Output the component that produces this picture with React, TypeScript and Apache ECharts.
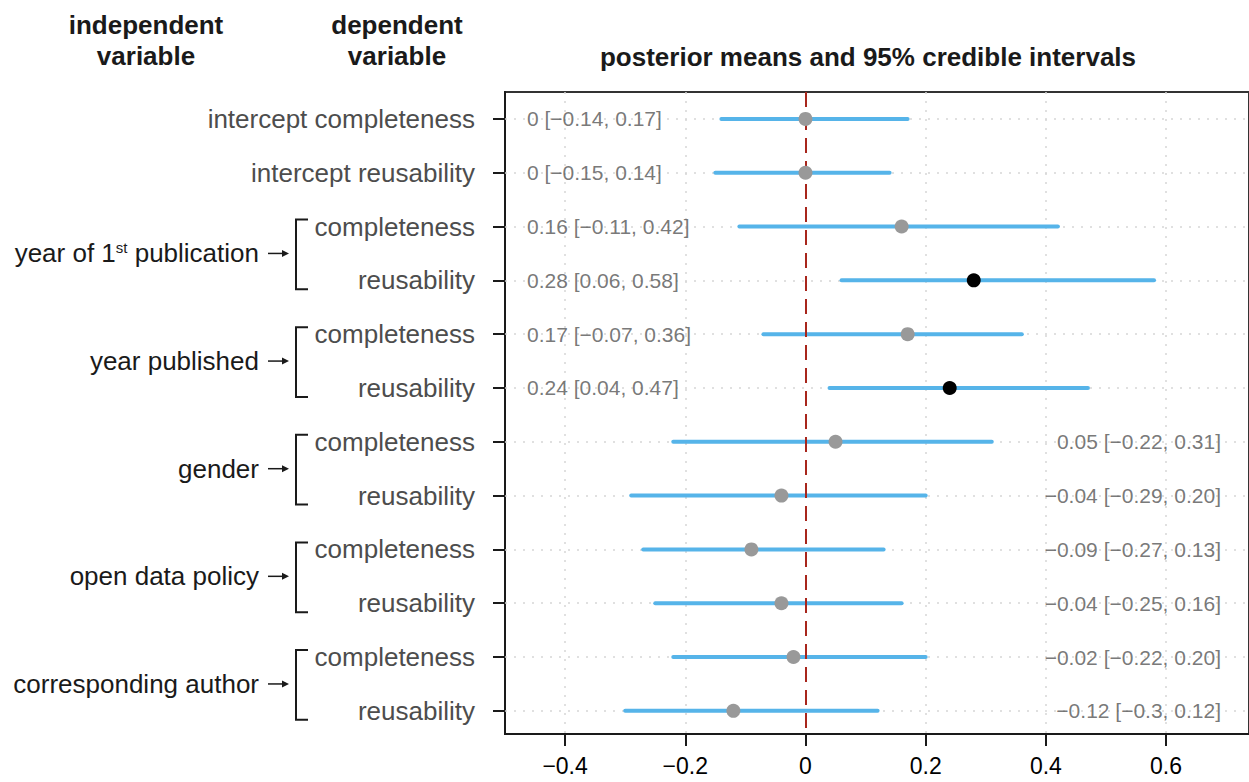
import React, { useEffect, useRef } from "react";
import * as echarts from "echarts";

// ---- data ----
const rowLabels = [
  "intercept completeness",
  "intercept reusability",
  "completeness",
  "reusability",
  "completeness",
  "reusability",
  "completeness",
  "reusability",
  "completeness",
  "reusability",
  "completeness",
  "reusability",
];
const means = [0, 0, 0.16, 0.28, 0.17, 0.24, 0.05, -0.04, -0.09, -0.04, -0.02, -0.12];
const lower = [-0.14, -0.15, -0.11, 0.06, -0.07, 0.04, -0.22, -0.29, -0.27, -0.25, -0.22, -0.3];
const upper = [0.17, 0.14, 0.42, 0.58, 0.36, 0.47, 0.31, 0.2, 0.13, 0.16, 0.2, 0.12];
const credible = [false, false, false, true, false, true, false, false, false, false, false, false];
const valueLabels = [
  "0 [\u22120.14, 0.17]",
  "0 [\u22120.15, 0.14]",
  "0.16 [\u22120.11, 0.42]",
  "0.28 [0.06, 0.58]",
  "0.17 [\u22120.07, 0.36]",
  "0.24 [0.04, 0.47]",
  "0.05 [\u22120.22, 0.31]",
  "\u22120.04 [\u22120.29, 0.20]",
  "\u22120.09 [\u22120.27, 0.13]",
  "\u22120.04 [\u22120.25, 0.16]",
  "\u22120.02 [\u22120.22, 0.20]",
  "\u22120.12 [\u22120.3, 0.12]",
];
const labelOnLeft = [true, true, true, true, true, true, false, false, false, false, false, false];
const xTicks = [-0.4, -0.2, 0, 0.2, 0.4, 0.6];
const groupNames = ["{a|year of 1}{s|st}{a| publication}", "year published", "gender", "open data policy", "corresponding author"];
const groupRows = [[3, 4], [5, 6], [7, 8], [9, 10], [11, 12]];
const headerIndependent = "independent\nvariable";
const headerDependent = "dependent\nvariable";
const titleText = "posterior means and 95% credible intervals";

// ---- style constants ----
const FONT = "'Liberation Sans', Arial, Helvetica, sans-serif";
const X_MIN = -0.5;
const X_MAX = 0.738;
const Y_MIN = 0.5;
const Y_MAX = 12.43;
const LEFT_LABEL_X = -0.4634;
const RIGHT_LABEL_X = 0.6914;
const BLUE = "#56B4E9";
const DARK = "#1a1a1a";
const BIG = 26;

const fmtTick = (v: number) => (v === 0 ? "0" : (v < 0 ? "\u2212" : "") + Math.abs(v).toFixed(1));

export default function App() {
  const ref = useRef<HTMLDivElement>(null);

  useEffect(() => {
    if (!ref.current) return;
    const chart = echarts.init(ref.current, null, { renderer: "svg" });
    const rows = rowLabels.map((_, i) => i + 1);

    const option: any = {
      animation: false,
      grid: {
        left: 505,
        right: -2,
        top: 92,
        bottom: 48,
        show: true,
        borderColor: "#333",
        borderWidth: 2,
        containLabel: false,
      },
      xAxis: {
        type: "value",
        min: X_MIN,
        max: X_MAX,
        axisLine: { show: true, onZero: false, lineStyle: { color: DARK, width: 2 } },
        axisTick: { show: true, length: 12, lineStyle: { color: DARK, width: 2 }, customValues: xTicks },
        axisLabel: {
          show: true,
          customValues: xTicks,
          formatter: (v: number) => fmtTick(v),
          fontSize: 23,
          color: "#000",
          fontFamily: FONT,
          margin: 20,
        },
        splitLine: { show: false },
      },
      yAxis: {
        type: "value",
        inverse: true,
        min: Y_MIN,
        max: Y_MAX,
        axisLine: { show: true, onZero: false, lineStyle: { color: DARK, width: 2 } },
        axisTick: { show: true, length: 12, lineStyle: { color: DARK, width: 2 }, customValues: rows },
        axisLabel: {
          show: true,
          customValues: rows,
          formatter: (v: number) => rowLabels[Math.round(v) - 1] ?? "",
          fontSize: BIG,
          color: "#4d4d4d",
          fontFamily: FONT,
          margin: 30,
        },
        splitLine: { show: false },
      },
      series: [
        {
          type: "scatter",
          data: [],
          z: 1,
          silent: true,
          markLine: {
            z: 1,
            silent: true,
            symbol: ["none", "none"],
            label: { show: false },
            lineStyle: { color: "#d6d6d6", width: 1.5, type: [2, 7] },
            data: [
              ...xTicks.filter((t) => t !== 0).map((t) => ({ xAxis: t })),
              ...rows.map((r) => ({ yAxis: r })),
            ],
          },
        },
        {
          type: "custom",
          z: 2,
          silent: true,
          data: rows.map((r, i) => [lower[i], upper[i], r]),
          encode: { x: [0, 1], y: 2 },
          renderItem: (_params: any, api: any) => {
            const p1 = api.coord([api.value(0), api.value(2)]);
            const p2 = api.coord([api.value(1), api.value(2)]);
            return {
              type: "line",
              shape: { x1: p1[0], y1: p1[1], x2: p2[0], y2: p2[1] },
              style: { stroke: BLUE, lineWidth: 4, lineCap: "round" },
            };
          },
        },
        {
          type: "scatter",
          data: [],
          z: 3,
          silent: true,
          markLine: {
            z: 3,
            silent: true,
            symbol: ["none", "none"],
            label: { show: false },
            lineStyle: { color: "#A8261C", width: 2, type: [15, 8] },
            data: [{ xAxis: 0 }],
          },
        },
        {
          type: "scatter",
          z: 4,
          silent: true,
          symbolSize: 14,
          data: rows.map((r, i) => ({
            value: [means[i], r],
            itemStyle: { color: credible[i] ? "#000" : "#999999", opacity: 1 },
          })),
        },
        {
          type: "scatter",
          z: 5,
          silent: true,
          symbolSize: 0,
          data: rows
            .map((r, i) => ({ value: [LEFT_LABEL_X, r], name: valueLabels[i], left: labelOnLeft[i] }))
            .filter((d) => d.left)
            .map((d) => ({ value: d.value, name: d.name })),
          label: {
            show: true,
            position: "right",
            distance: 0,
            formatter: (p: any) => p.name,
            fontSize: 21,
            color: "#555",
            fontFamily: FONT,
          },
        },
        {
          type: "scatter",
          z: 5,
          silent: true,
          symbolSize: 0,
          data: rows
            .map((r, i) => ({ value: [RIGHT_LABEL_X, r], name: valueLabels[i], left: labelOnLeft[i] }))
            .filter((d) => !d.left)
            .map((d) => ({ value: d.value, name: d.name })),
          label: {
            show: true,
            position: "left",
            distance: 0,
            formatter: (p: any) => p.name,
            fontSize: 21,
            color: "#555",
            fontFamily: FONT,
          },
        },
      ],
    };
    chart.setOption(option);

    const yOf = (r: number) => chart.convertToPixel({ gridIndex: 0 }, [0, r])[1];
    const headerStyle = {
      align: "center",
      verticalAlign: "middle",
      fontSize: BIG,
      fontWeight: "bold",
      lineHeight: 31,
      fontFamily: FONT,
      fill: DARK,
    };
    const graphics: any[] = [
      { type: "text", x: 146, y: 40, style: { ...headerStyle, text: headerIndependent } },
      { type: "text", x: 397, y: 40, style: { ...headerStyle, text: headerDependent } },
      { type: "text", x: 868, y: 57, style: { ...headerStyle, text: titleText } },
    ];
    groupRows.forEach((pair, gi) => {
      const ya = yOf(pair[0]);
      const yb = yOf(pair[1]);
      const ym = (ya + yb) / 2;
      graphics.push({
        type: "text",
        x: 259,
        y: ym,
        style: {
          text: groupNames[gi],
          align: "right",
          verticalAlign: "middle",
          fontSize: BIG,
          fontFamily: FONT,
          fill: DARK,
          rich: {
            a: { fontSize: BIG, fontFamily: FONT, fill: DARK },
            s: { fontSize: 15, fontFamily: FONT, fill: DARK, verticalAlign: "top" },
          },
        },
      });
      graphics.push({
        type: "line",
        shape: { x1: 268, y1: ym, x2: 283, y2: ym },
        style: { stroke: DARK, lineWidth: 1.5 },
      });
      graphics.push({
        type: "polygon",
        shape: { points: [[282, ym - 3.5], [289, ym], [282, ym + 3.5]] },
        style: { fill: DARK },
      });
      graphics.push({
        type: "polyline",
        shape: { points: [[308, ya - 7], [296, ya - 7], [296, yb + 9], [308, yb + 9]] },
        style: { stroke: DARK, lineWidth: 2, fill: "none" },
      });
    });
    chart.setOption({ graphic: graphics });

    return () => chart.dispose();
  }, []);

  return (
    <div
      ref={ref}
      style={{ position: "absolute", left: 0, top: 0, width: 1249, height: 782, background: "#fff" }}
    />
  );
}
